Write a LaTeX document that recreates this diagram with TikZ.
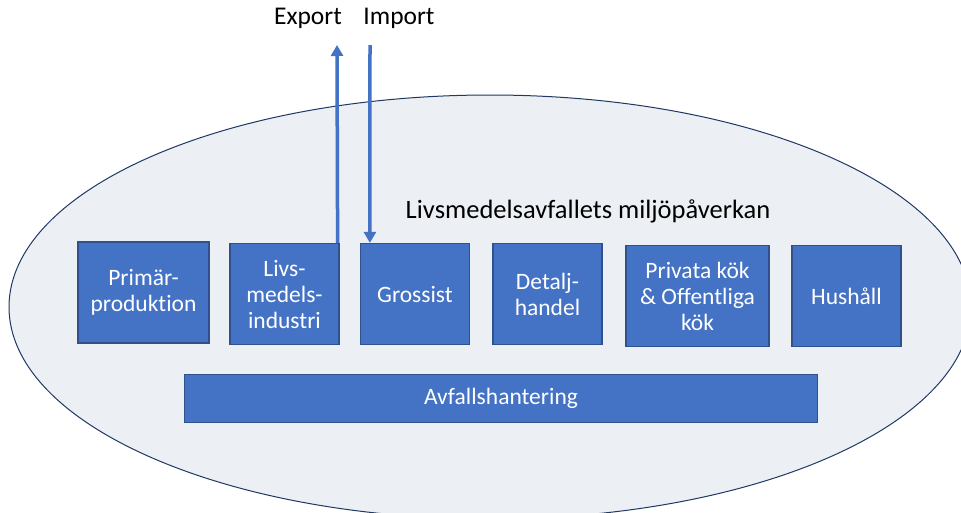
\documentclass[tikz,border=0pt]{standalone}
\usepackage{fontspec}
\setmainfont{Carlito}[Ligatures=NoCommon]
\usetikzlibrary{arrows.meta}
\definecolor{boxblue}{HTML}{4472C4}
\definecolor{boxedge}{HTML}{2F528F}
\definecolor{ovalfill}{HTML}{ECEFF4}
\definecolor{ovaledge}{HTML}{1F3864}
\tikzset{
  stagebox/.style={draw=boxedge, line width=1.2pt, fill=boxblue, text=white,
    align=center, inner sep=1pt,
    font=\fontsize{23.5}{26}\selectfont},
  flowarrow/.style={draw=boxblue, line width=3.5pt,
    -{Triangle[width=12pt,length=11pt]}},
  plainlabel/.style={font=\fontsize{26.5}{28}\selectfont, text=black}
}
\begin{document}
\begin{tikzpicture}[x=1pt,y=-1pt]
\useasboundingbox (0,0) rectangle (961,512);
\clip (0,0) rectangle (961,512);
% background oval
\draw[fill=ovalfill, draw=ovaledge, line width=1pt] (490,307) ellipse [x radius=481, y radius=212];

% stages of the food chain
\node[stagebox, minimum width=131pt, minimum height=101pt] (prim) at (143.5,292.5) {Primär-\\produktion};
\node[stagebox, minimum width=109pt, minimum height=101pt] (livs) at (284.5,294) {Livs-\\medels-\\industri};
\node[stagebox, minimum width=109pt, minimum height=101pt] (gros) at (415,294) {Grossist};
\node[stagebox, minimum width=109pt, minimum height=101pt] (detl) at (547.5,294) {Detalj-\\handel};
\node[stagebox, minimum width=143pt, minimum height=101pt] (priv) at (697.5,296) {Privata kök\\\& Offentliga\\kök};
\node[stagebox, minimum width=109pt, minimum height=101pt] (hush) at (846.5,296) {Hushåll};
\node[stagebox, minimum width=633pt, minimum height=48pt] (avf) at (501,398.5) {Avfallshantering};

% title inside the oval
\node[plainlabel] (title) at (588,211) {Livsmedelsavfallets miljöpåverkan};

% trade labels and arrows
\node[plainlabel, font=\fontsize{25.5}{28}\selectfont] (exlab) at (308,18) {Export};
\node[plainlabel, font=\fontsize{25.5}{28}\selectfont] (imlab) at (399,18) {Import};
\coordinate (extop) at (337,45);
\coordinate (imtop) at (370,45);
\draw[flowarrow] ([xshift=-2pt]livs.north east) -- (extop);
\draw[flowarrow] (imtop) -- ([xshift=10pt]gros.north west);
\end{tikzpicture}
\end{document}
